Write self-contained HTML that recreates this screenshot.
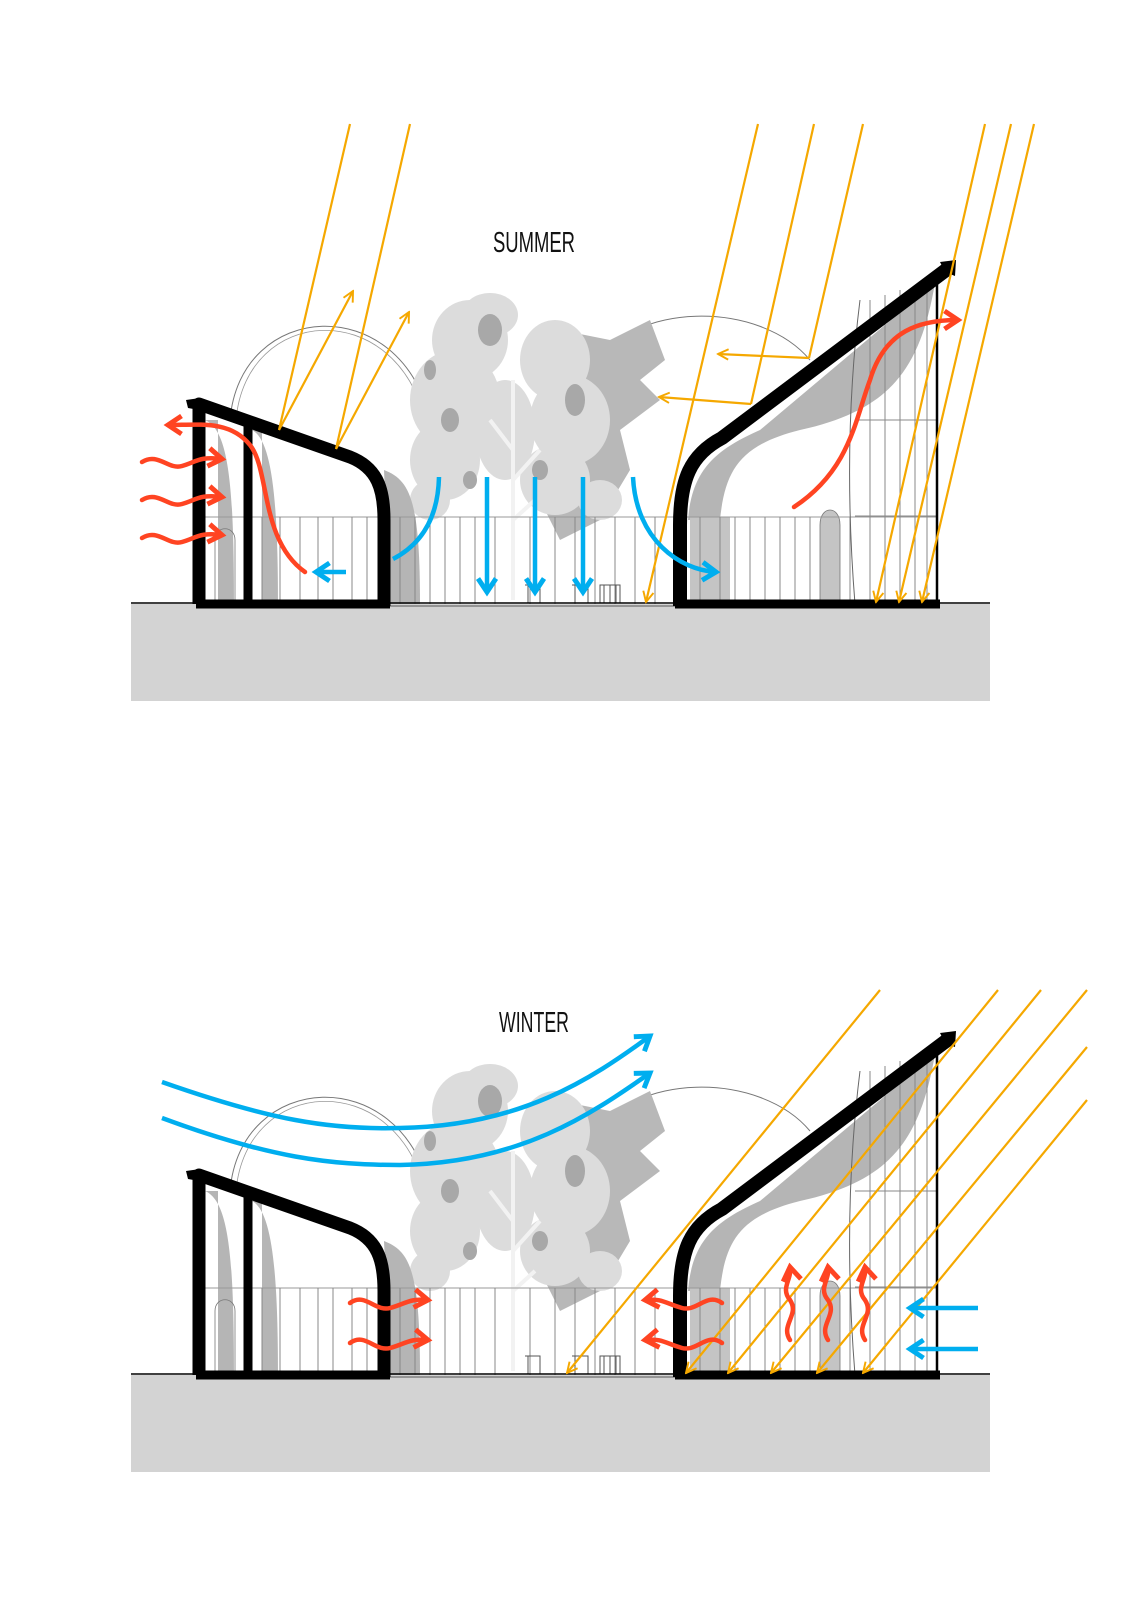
<!DOCTYPE html>
<html><head><meta charset="utf-8"><style>
html,body{margin:0;padding:0;background:#fff;}
svg{display:block;}
text{font-family:"Liberation Sans Narrow","Liberation Sans",sans-serif;}
</style></head><body>
<svg width="1131" height="1600" viewBox="0 0 1131 1600" xmlns="http://www.w3.org/2000/svg">
<defs>
<marker id="mo" viewBox="0 0 10 10" refX="9" refY="5" markerWidth="13" markerHeight="13" markerUnits="userSpaceOnUse" orient="auto"><path d="M1,1 L9,5 L1,9" fill="none" stroke="#f5a800" stroke-width="1.5"/></marker>
<marker id="mb" viewBox="0 0 10 10" refX="8" refY="5" markerWidth="5" markerHeight="5" orient="auto"><path d="M2,1 L8,5 L2,9" fill="none" stroke="#00aeef" stroke-width="2.2"/></marker>
<marker id="mr" viewBox="0 0 10 10" refX="8" refY="5" markerWidth="5" markerHeight="5" orient="auto"><path d="M2,1 L8,5 L2,9" fill="none" stroke="#ff4422" stroke-width="2.2"/></marker>
<g id="bld">
  <!-- domes -->
  <path d="M230,420 C240,300 400,290 430,420" fill="none" stroke="#777" stroke-width="1"/>
  <path d="M236,420 C246,305 395,296 425,420" fill="none" stroke="#999" stroke-width="0.8"/>
  <path d="M590,370 C630,300 760,300 810,360" fill="none" stroke="#777" stroke-width="1"/>
  <!-- tree shadow -->
  <path d="M560,330 L610,340 L650,320 L665,360 L640,380 L660,400 L620,430 L630,470 L600,520 L560,540 L540,500 Z" fill="#b8b8b8"/>
  <!-- tree canopy -->
  <g fill="#dcdcdc">
    <ellipse cx="470" cy="340" rx="38" ry="40"/>
    <ellipse cx="455" cy="400" rx="45" ry="50"/>
    <ellipse cx="445" cy="460" rx="35" ry="40"/>
    <ellipse cx="490" cy="315" rx="28" ry="22"/>
    <ellipse cx="555" cy="360" rx="35" ry="40"/>
    <ellipse cx="570" cy="420" rx="40" ry="45"/>
    <ellipse cx="555" cy="480" rx="35" ry="35"/>
    <ellipse cx="505" cy="430" rx="30" ry="50"/>
    <ellipse cx="430" cy="500" rx="20" ry="20"/>
    <ellipse cx="600" cy="500" rx="22" ry="20"/>
  </g>
  <g fill="#a8a8a8">
    <ellipse cx="490" cy="330" rx="12" ry="16"/>
    <ellipse cx="450" cy="420" rx="9" ry="12"/>
    <ellipse cx="575" cy="400" rx="10" ry="16"/>
    <ellipse cx="540" cy="470" rx="8" ry="10"/>
    <ellipse cx="470" cy="480" rx="7" ry="9"/>
    <ellipse cx="430" cy="370" rx="6" ry="10"/>
  </g>
  <path d="M513,380 L513,600 M513,450 L490,420 M513,480 L540,450 M513,520 L535,500" stroke="#f2f2f2" stroke-width="4" fill="none"/>
  <!-- left building gray arches -->
  <path d="M205,420 C228,430 234,480 234,604 L218,604 L218,420 Z" fill="#b5b5b5"/>
  <path d="M252,430 C272,440 278,500 278,604 L262,604 L262,430 Z" fill="#b5b5b5"/>
  <path d="M384,470 C410,480 420,500 420,604 L390,604 Z" fill="#b5b5b5"/>
  <!-- right building shading -->
  <path d="M688,520 C692,470 715,450 760,430 L935,283 C920,370 890,410 800,430 C740,445 725,470 720,520 Z" fill="#b5b5b5"/>
  <path d="M690,517 L730,517 L730,604 L690,604 Z" fill="#c4c4c4"/>
  <path d="M820,604 L820,525 C820,505 840,505 840,525 L840,604" fill="#c4c4c4" stroke="#777" stroke-width="0.8"/>
  <path d="M215,604 L215,540 C215,525 235,525 235,540 L235,604" fill="none" stroke="#777" stroke-width="0.8"/>
  <!-- fence -->
  <line x1="199" y1="517" x2="937" y2="517" stroke="#999" stroke-width="1"/>
  <g stroke="#888" stroke-width="1">
    <line x1="262" y1="517" x2="262" y2="604"/><line x1="280" y1="517" x2="280" y2="604"/><line x1="300" y1="517" x2="300" y2="604"/><line x1="318" y1="517" x2="318" y2="604"/><line x1="333" y1="517" x2="333" y2="604"/><line x1="352" y1="517" x2="352" y2="604"/><line x1="367" y1="517" x2="367" y2="604"/>
    <line x1="400" y1="517" x2="400" y2="604"/><line x1="415" y1="517" x2="415" y2="604"/><line x1="430" y1="517" x2="430" y2="604"/><line x1="445" y1="517" x2="445" y2="604"/><line x1="460" y1="517" x2="460" y2="604"/><line x1="475" y1="517" x2="475" y2="604"/><line x1="495" y1="517" x2="495" y2="604"/><line x1="530" y1="517" x2="530" y2="604"/><line x1="555" y1="517" x2="555" y2="604"/><line x1="575" y1="517" x2="575" y2="604"/><line x1="595" y1="517" x2="595" y2="604"/><line x1="615" y1="517" x2="615" y2="604"/><line x1="635" y1="517" x2="635" y2="604"/><line x1="655" y1="517" x2="655" y2="604"/>
    <line x1="700" y1="517" x2="700" y2="604"/><line x1="720" y1="517" x2="720" y2="604"/><line x1="735" y1="517" x2="735" y2="604"/><line x1="750" y1="517" x2="750" y2="604"/><line x1="765" y1="517" x2="765" y2="604"/><line x1="780" y1="517" x2="780" y2="604"/><line x1="795" y1="517" x2="795" y2="604"/><line x1="810" y1="517" x2="810" y2="604"/><line x1="850" y1="517" x2="850" y2="604"/>
    <line x1="870" y1="300" x2="870" y2="604"/><line x1="885" y1="295" x2="885" y2="604"/><line x1="900" y1="290" x2="900" y2="604"/><line x1="915" y1="285" x2="915" y2="604"/><line x1="927" y1="283" x2="927" y2="604"/>
    <line x1="855" y1="420" x2="937" y2="420"/><line x1="855" y1="516" x2="937" y2="516"/>
  </g>
  <path d="M860,300 C850,380 845,480 855,604" fill="none" stroke="#666" stroke-width="1"/>
  <!-- furniture -->
  <g fill="none" stroke="#555" stroke-width="1">
    <rect x="600" y="585" width="20" height="18"/><line x1="604" y1="585" x2="604" y2="603"/><line x1="610" y1="585" x2="610" y2="603"/><line x1="616" y1="585" x2="616" y2="603"/>
    <path d="M525,585 L540,585 L540,603 M528,585 L528,603"/><path d="M572,585 L588,585 L588,603 M575,585 L575,603"/>
  </g>
  <!-- ground -->
  <line x1="131" y1="603" x2="990" y2="603" stroke="#000" stroke-width="1.5"/>
  <rect x="131" y="604" width="859" height="97" fill="#d3d3d3"/>
  <line x1="384" y1="606" x2="679" y2="606" stroke="#555" stroke-width="1"/>
  <!-- structure -->
  <g fill="none" stroke="#000" stroke-linejoin="round">
    <path d="M199,604 L199,404 L350,457 C378,468 384,490 384,520 L384,606" stroke-width="13"/>
    <line x1="248" y1="420" x2="248" y2="604" stroke-width="9"/>
    <line x1="196" y1="604" x2="390" y2="604" stroke-width="9"/>
    <path d="M680,606 L680,525 C680,480 690,455 722,438 L950,267" stroke-width="14"/>
    <line x1="675" y1="604" x2="940" y2="604" stroke-width="9"/>
    <line x1="937" y1="275" x2="937" y2="604" stroke-width="2.5"/>
  </g>
  <path d="M186,400 L200,398 L199,410 L188,408 Z" fill="#000"/>
  <path d="M940,262 L956,260 L955,276 L945,272 Z" fill="#000"/>
</g>
</defs>

<use href="#bld"/>
<use href="#bld" transform="translate(0,771)"/>

<text x="534" y="252" font-size="29" text-anchor="middle" fill="#111" textLength="82" lengthAdjust="spacingAndGlyphs">SUMMER</text>
<text x="534" y="1032" font-size="29" text-anchor="middle" fill="#111" textLength="70" lengthAdjust="spacingAndGlyphs">WINTER</text>

<!-- SUMMER sun -->
<g stroke="#f5a800" stroke-width="2.2" fill="none">
  <line x1="350" y1="124" x2="279" y2="430"/>
  <line x1="279" y1="430" x2="353" y2="291" marker-end="url(#mo)"/>
  <line x1="410" y1="124" x2="336" y2="449"/>
  <line x1="336" y1="449" x2="409" y2="312" marker-end="url(#mo)"/>
  <line x1="758" y1="124" x2="646" y2="602" marker-end="url(#mo)"/>
  <line x1="863" y1="124" x2="809" y2="358"/>
  <line x1="809" y1="358" x2="718" y2="354" marker-end="url(#mo)"/>
  <line x1="814" y1="124" x2="751" y2="404"/>
  <line x1="751" y1="404" x2="659" y2="397" marker-end="url(#mo)"/>
  <line x1="985" y1="124" x2="876" y2="602" marker-end="url(#mo)"/>
  <line x1="1011" y1="124" x2="899" y2="602" marker-end="url(#mo)"/>
  <line x1="1034" y1="124" x2="922" y2="602" marker-end="url(#mo)"/>
</g>
<!-- SUMMER red -->
<g stroke="#ff4422" stroke-width="4.5" fill="none" stroke-linecap="round">
  <path d="M305,572 C260,540 270,470 250,445 C230,420 200,425 168,425" marker-end="url(#mr)"/>
  <path d="M794,507 C850,470 855,420 870,380 C885,330 920,320 958,320" marker-end="url(#mr)"/>
  <path d="M142,462 C158,452 168,470 182,466 C196,462 200,456 222,459" marker-end="url(#mr)"/>
  <path d="M142,500 C158,490 168,508 182,504 C196,500 200,494 222,497" marker-end="url(#mr)"/>
  <path d="M142,538 C158,528 168,546 182,542 C196,538 200,532 222,535" marker-end="url(#mr)"/>
</g>
<!-- SUMMER blue -->
<g stroke="#00aeef" stroke-width="4.5" fill="none">
  <path d="M439,477 C438,520 420,545 393,559"/>
  <line x1="346" y1="572" x2="316" y2="572" marker-end="url(#mb)"/>
  <line x1="487" y1="477" x2="487" y2="592" marker-end="url(#mb)"/>
  <line x1="535" y1="477" x2="535" y2="592" marker-end="url(#mb)"/>
  <line x1="583" y1="477" x2="583" y2="592" marker-end="url(#mb)"/>
  <path d="M633,477 C636,540 680,570 716,572" marker-end="url(#mb)"/>
</g>

<!-- WINTER sun -->
<g stroke="#f5a800" stroke-width="2.2" fill="none">
  <line x1="880" y1="990" x2="567" y2="1373" marker-end="url(#mo)"/>
  <line x1="998" y1="990" x2="686" y2="1373" marker-end="url(#mo)"/>
  <line x1="1041" y1="990" x2="728" y2="1373" marker-end="url(#mo)"/>
  <line x1="1087" y1="990" x2="771" y2="1373" marker-end="url(#mo)"/>
  <line x1="1087" y1="1047" x2="817" y2="1373" marker-end="url(#mo)"/>
  <line x1="1087" y1="1100" x2="863" y2="1373" marker-end="url(#mo)"/>
</g>
<!-- WINTER blue -->
<g stroke="#00aeef" stroke-width="4.5" fill="none">
  <path d="M162,1082 C270,1120 330,1130 400,1128 C520,1126 590,1080 650,1036" marker-end="url(#mb)"/>
  <path d="M162,1118 C270,1158 330,1165 400,1165 C520,1163 590,1115 650,1073" marker-end="url(#mb)"/>
  <line x1="978" y1="1308" x2="910" y2="1308" marker-end="url(#mb)"/>
  <line x1="978" y1="1349" x2="910" y2="1349" marker-end="url(#mb)"/>
</g>
<!-- WINTER red -->
<g stroke="#ff4422" stroke-width="4.5" fill="none" stroke-linecap="round">
  <path d="M350,1303 C365,1292 375,1312 390,1308 C405,1304 410,1298 428,1300" marker-end="url(#mr)"/>
  <path d="M350,1343 C365,1332 375,1352 390,1348 C405,1344 410,1338 428,1340" marker-end="url(#mr)"/>
  <path d="M722,1303 C707,1292 697,1312 682,1308 C667,1304 662,1298 645,1300" marker-end="url(#mr)"/>
  <path d="M722,1343 C707,1332 697,1352 682,1348 C667,1344 662,1338 645,1340" marker-end="url(#mr)"/>
  <path d="M790,1340 C780,1325 800,1315 790,1300 C780,1288 792,1280 790,1267" marker-end="url(#mr)"/>
  <path d="M828,1340 C818,1325 838,1315 828,1300 C818,1288 830,1280 828,1267" marker-end="url(#mr)"/>
  <path d="M865,1340 C855,1325 875,1315 865,1300 C855,1288 867,1280 865,1267" marker-end="url(#mr)"/>
</g>
</svg>
</body></html>
